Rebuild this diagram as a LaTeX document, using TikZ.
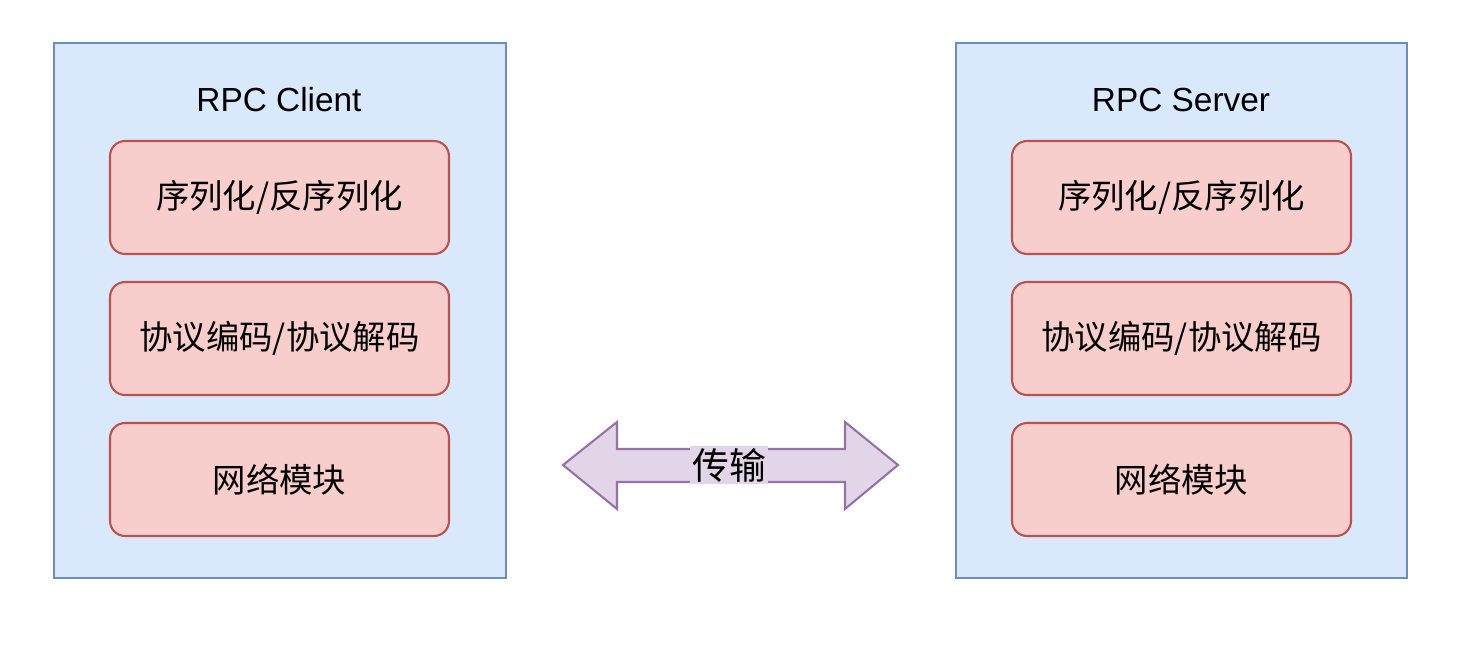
\documentclass[tikz,border=0pt]{standalone}
\usepackage{fontspec}
\setmainfont{Liberation Sans}
\newfontfamily\cjk{Noto Sans CJK SC}
\definecolor{boxfill}{HTML}{DAE8FC}
\definecolor{boxline}{HTML}{6C8EBF}
\definecolor{modfill}{HTML}{F8CECC}
\definecolor{modline}{HTML}{B85450}
\definecolor{arrfill}{HTML}{E1D5E7}
\definecolor{arrline}{HTML}{9673A6}
\tikzset{
  side/.style={draw=boxline, fill=boxfill, line width=1.2pt},
  module/.style={draw=modline, fill=modfill, line width=1.2pt, rounded corners=0.3cm,
    minimum width=6.78cm, minimum height=2.26cm, font=\cjk\fontsize{19}{23}\selectfont},
  title/.style={font=\fontsize{19}{23}\selectfont}
}
\begin{document}
\begin{tikzpicture}[x=0.02cm, y=-0.02cm]
    \useasboundingbox (0,0) rectangle (1466,662);
    % Client side
    \draw[side] (54,43) rectangle (506,578);
    \node[title] (clientTitle) at (279,100) {RPC Client};
    \node[module] (clientSer) at (279.5,197.5) {序列化/反序列化};
    \node[module] (clientCodec) at (279.5,338.5) {协议编码/协议解码};
    \node[module] (clientNet) at (279.5,479.5) {网络模块};
    % Server side
    \draw[side] (956,43) rectangle (1407,578);
    \node[title] (serverTitle) at (1181,100) {RPC Server};
    \node[module] (serverSer) at (1181.5,197.5) {序列化/反序列化};
    \node[module] (serverCodec) at (1181.5,338.5) {协议编码/协议解码};
    \node[module] (serverNet) at (1181.5,479.5) {网络模块};
    % Transport arrow
    \draw[draw=arrline, fill=arrfill, line width=1.2pt]
      (563,465) -- (617,422) -- (617,449) -- (845,449) -- (845,422) -- (898,465)
      -- (845,509) -- (845,482) -- (617,482) -- (617,509) -- cycle;
    \node[fill=arrfill, inner sep=1pt, font=\cjk\fontsize{21}{25}\selectfont] (transport) at (729,465) {传输};
\end{tikzpicture}
\end{document}
